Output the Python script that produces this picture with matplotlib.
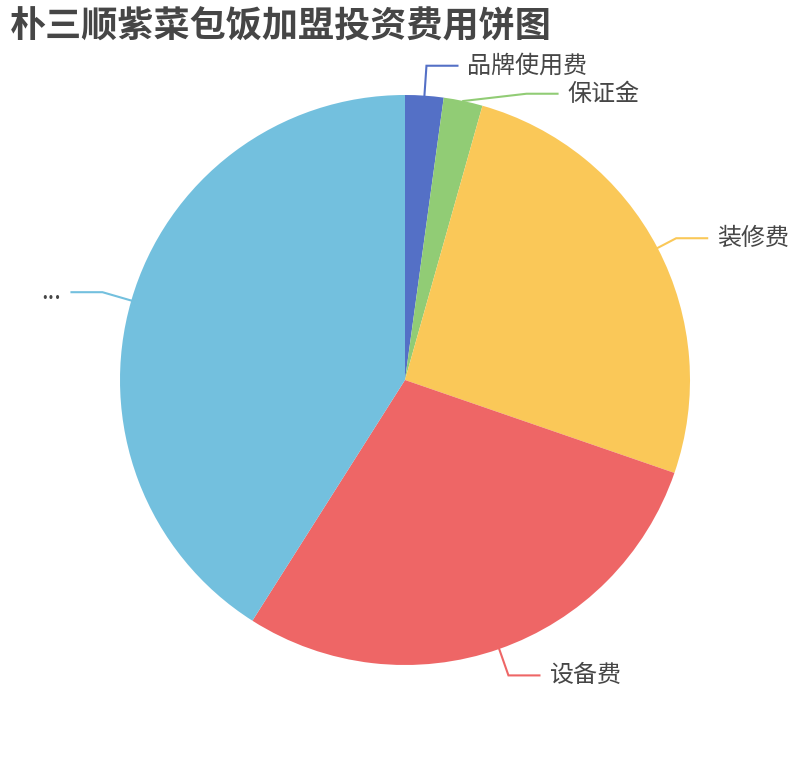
import numpy as np
import matplotlib
matplotlib.use("Agg")
import matplotlib.pyplot as plt

plt.rcParams['font.family'] = ['Noto Sans CJK SC', 'DejaVu Sans']

# ---- data ----
title = "朴三顺紫菜包饭加盟投资费用饼图"
categories = ["品牌使用费", "保证金", "装修费", "设备费", "..."]
values = [2.17, 2.21, 25.9, 28.7, 41.0]
colors = ["#5470c6", "#91cc75", "#fac858", "#ee6666", "#73c0de"]

# ---- layout ----
W, H = 810, 760
cx, cy, R = 405, 380, 285
line_len1 = [30, 26, 21, 28, 30]
len2, gap, min_sep = 31, 10, 28

fig = plt.figure(figsize=(W / 100, H / 100), dpi=100)
ax = fig.add_axes([0, 0, 1, 1])
ax.axis('off')

wedges, _ = ax.pie(values, colors=colors, startangle=90, counterclock=False,
                   center=(cx, H - cy), radius=R,
                   wedgeprops=dict(linewidth=0))
ax.set_xlim(0, W)
ax.set_ylim(0, H)
ax.set_aspect('equal')

# label line geometry (in pixel coords, y downward)
total = sum(values)
labels = []
acc = 0.0
for name, v, c, l1 in zip(categories, values, colors, line_len1):
    mid = (acc + v / 2) / total * 2 * np.pi  # clockwise from top
    acc += v
    s, co = np.sin(mid), np.cos(mid)
    p0 = (cx + R * s, cy - R * co)
    p1 = [cx + (R + l1) * s, cy - (R + l1) * co]
    labels.append(dict(name=name, color=c, p0=p0, p1=p1, right=s >= 0, l1=l1))

# simple overlap avoidance per side
for side in (True, False):
    grp = sorted([l for l in labels if l['right'] == side], key=lambda l: l['p1'][1])
    for i in range(1, len(grp)):
        prev, cur = grp[i - 1], grp[i]
        if cur['p1'][1] - prev['p1'][1] < min_sep:
            cur['p1'][1] = prev['p1'][1] + min_sep
            dy = cy - cur['p1'][1]
            rr = R + cur['l1']
            dx = np.sqrt(max(rr * rr - dy * dy, 0))
            cur['p1'][0] = cx + dx if side else cx - dx

for l in labels:
    x0, y0 = l['p0']
    x1, y1 = l['p1']
    sgn = 1 if l['right'] else -1
    x2 = x1 + sgn * len2
    ax.plot([x0, x1, x2], [H - y0, H - y1, H - y1], color=l['color'],
            lw=1.5, solid_joinstyle='miter')
    ax.text(x2 + sgn * gap, H - y1, l['name'], fontsize=17.3, color='#464646',
            ha='left' if l['right'] else 'right', va='center')

fig.text(10 / W, 1 - 27 / H, title, fontsize=26, fontweight='bold',
         color='#464646', ha='left', va='center')

fig.savefig("out.png", dpi=100, facecolor='white')
